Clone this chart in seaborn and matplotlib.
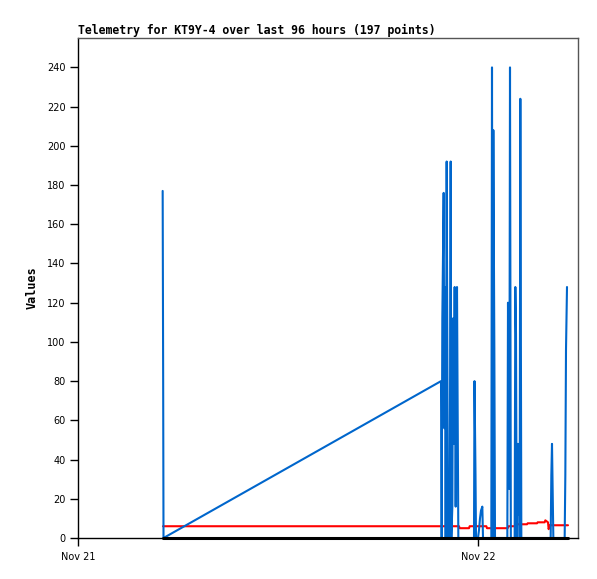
import matplotlib
matplotlib.use("Agg")
import matplotlib.pyplot as plt
import matplotlib.dates as mdates
import seaborn as sns
import pandas as pd
import numpy as np

# ---- data (hours after Nov 21 00:00, values) ----
blue_hours = [5.08, 5.11, 5.13, 21.78, 21.82, 21.86, 21.90, 21.94, 21.98, 22.02, 22.06,
              22.12, 22.16, 22.20, 22.30, 22.36, 22.40, 22.46, 22.50, 22.54, 22.60, 22.66,
              22.70, 22.74, 22.78, 22.82,
              23.76, 23.79, 23.85, 23.88, 24.00, 24.06, 24.12, 24.18, 24.26, 24.30,
              24.80, 24.84, 24.88, 24.92, 24.98, 25.02,
              25.76, 25.80, 25.84, 25.88, 25.92, 25.97, 26.20, 26.24, 26.28, 26.32,
              26.38, 26.42, 26.46, 26.50, 26.54, 26.60,
              28.36, 28.40, 28.44, 28.48, 28.52,
              29.20, 29.24, 29.28, 29.34]
blue_values = [177, 80, 0, 80, 0, 112, 144, 176, 56, 128, 0,
               192, 96, 0, 0, 192, 0, 16, 112, 48, 128, 16,
               80, 128, 64, 0,
               0, 80, 32, 0, 0, 4, 10, 14, 16, 0,
               0, 240, 0, 208, 97, 0,
               0, 120, 48, 25, 240, 0, 0, 128, 104, 0,
               48, 12, 48, 0, 224, 0,
               0, 32, 48, 24, 0,
               0, 32, 96, 128]

red_hours = [5.10, 22.86, 22.90, 23.46, 23.50, 24.50, 24.54, 25.78, 25.82, 26.20, 26.24,
             26.94, 26.98, 27.54, 27.58, 28.00, 28.04, 28.20, 28.24, 28.30, 29.40]
red_values = [6, 6, 5, 5, 6, 6, 5, 5, 6, 6, 7,
              7, 7.5, 7.5, 8, 8, 9, 8, 4.5, 6.5, 6.5]

black_hours = [5.10, 29.40]
black_values = [0, 0]

y_ticks = [0, 20, 40, 60, 80, 100, 120, 140, 160, 180, 200, 220, 240]
title_text = "Telemetry for KT9Y-4 over last 96 hours (197 points)"
y_label = "Values"

start = pd.Timestamp("2023-11-21 00:00")

def to_df(hours, values):
    return pd.DataFrame({"t": start + pd.to_timedelta(hours, unit="h"), "v": values})

sns.set_style("ticks")
plt.rcParams.update({
    'font.family': ['DejaVu Sans'],
    'text.color': 'black',
    'xtick.bottom': True, 'ytick.left': True,
    'xtick.direction': 'out', 'ytick.direction': 'out',
    'xtick.major.size': 6, 'ytick.major.size': 6,
    'xtick.major.width': 1, 'ytick.major.width': 1,
    'xtick.color': 'black', 'ytick.color': 'black',
    'xtick.labelsize': 7, 'ytick.labelsize': 7,
})

fig = plt.figure(figsize=(5.97, 5.79), dpi=100)
ax = fig.add_axes([78/597, 1 - 538/579, 500/597, 500/579])

sns.lineplot(data=to_df(red_hours, red_values), x="t", y="v", ax=ax,
             color="#FF0000", lw=1.5, estimator=None, sort=False, zorder=2)
sns.lineplot(data=to_df(blue_hours, blue_values), x="t", y="v", ax=ax,
             color="#0066CC", lw=1.5, estimator=None, sort=False, zorder=3)
sns.lineplot(data=to_df(black_hours, black_values), x="t", y="v", ax=ax,
             color="#000000", lw=2.2, estimator=None, sort=False, zorder=4, clip_on=False)

ax.set_xlim(start, start + pd.Timedelta(hours=30))
ax.set_ylim(0, 255)
ax.set_yticks(y_ticks)
ax.xaxis.set_major_locator(mdates.DayLocator())
ax.xaxis.set_major_formatter(mdates.DateFormatter("%b %d"))

ax.tick_params(axis="y", which="major", length=6, width=1, color="black",
               labelcolor="black", pad=3, left=True)
ax.tick_params(axis="x", which="major", length=6, width=1, color="black",
               labelcolor="black", pad=4, bottom=True)

for side in ["top", "right"]:
    ax.spines[side].set_visible(True)
    ax.spines[side].set_color("#555555")
    ax.spines[side].set_linewidth(1)
for side in ["left", "bottom"]:
    ax.spines[side].set_color("black")
    ax.spines[side].set_linewidth(1)

ax.set_xlabel("")
ax.set_ylabel(y_label, family="DejaVu Sans Mono", fontweight="bold", fontsize=8.5,
              labelpad=6, color="black")
ax.set_title(title_text, loc="left", family="DejaVu Sans Mono", fontweight="bold",
             fontsize=8.3, pad=3, color="black")
ax.grid(False)

fig.savefig("out.png", dpi=100, facecolor="white")
